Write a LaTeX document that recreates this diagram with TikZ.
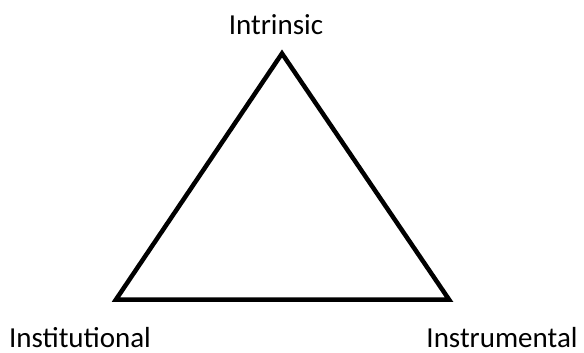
\documentclass[tikz,border=0pt]{standalone}
\usepackage{fontspec}
\setmainfont{Carlito}
\begin{document}
\begin{tikzpicture}[x=1pt,y=-1pt,
  lbl/.style={anchor=base,inner sep=0pt,font=\fontsize{29}{33}\selectfont},
  tri/.style={line width=4.5pt,line join=miter,draw=black}]
\useasboundingbox (0,0) rectangle (584,353);
\coordinate (top) at (282,53.5);
\coordinate (bl) at (116,299.5);
\coordinate (br) at (449,299.5);
\draw[tri] (top) -- (bl) -- (br) -- cycle;
\node[lbl] (intr) at (276,35) {Intrinsic};
\node[lbl] (inst) at (80,347) {Institutional};
\node[lbl] (instr) at (502,347) {Instrumental};
\end{tikzpicture}
\end{document}
